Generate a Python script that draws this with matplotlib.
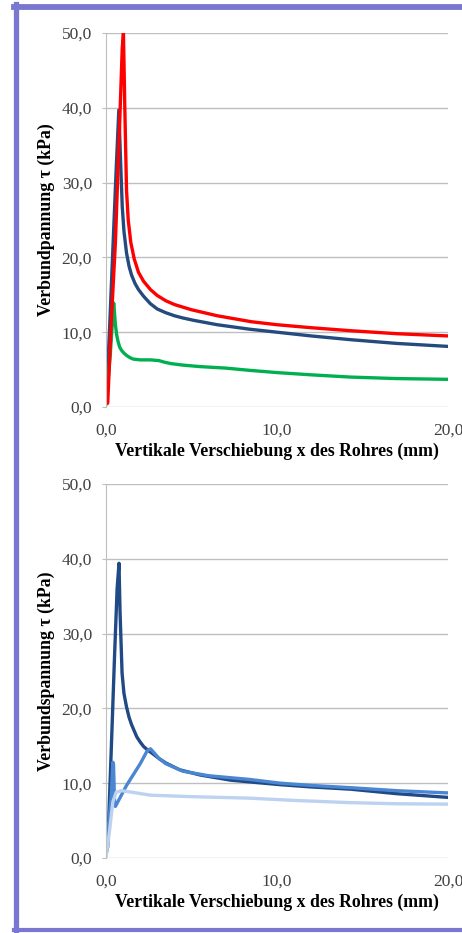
import numpy as np
import matplotlib
matplotlib.use('Agg')
import matplotlib.pyplot as plt
from matplotlib.lines import Line2D

plt.rcParams['font.family'] = ['Liberation Serif', 'DejaVu Serif']

# top chart: three pull-out tests
red_x = [0.1, 0.3, 0.55, 0.8, 0.95, 1.02, 1.1, 1.2, 1.3, 1.45, 1.65, 1.9, 2.2, 2.6, 3.0, 3.5, 4.0, 5.0, 6.5, 8.5, 10.0, 12.0, 14.3, 17.0, 20.0]
red_y = [0.5, 11.0, 22.0, 38.0, 48.0, 50.0, 40.0, 29.0, 25.0, 22.0, 19.8, 18.0, 16.8, 15.7, 14.9, 14.2, 13.7, 13.0, 12.2, 11.4, 11.0, 10.6, 10.2, 9.8, 9.5]
navy_x = [0.0, 0.2, 0.4, 0.6, 0.75, 0.85, 0.95, 1.05, 1.2, 1.35, 1.5, 1.7, 1.9, 2.2, 2.6, 3.0, 3.5, 4.0, 4.5, 5.1, 6.5, 8.4, 10.0, 12.0, 14.3, 17.0, 20.0]
navy_y = [0.5, 10.0, 21.0, 32.0, 39.7, 33.0, 26.8, 23.5, 20.6, 18.8, 17.6, 16.5, 15.7, 14.8, 13.8, 13.1, 12.6, 12.2, 11.9, 11.6, 11.0, 10.4, 10.0, 9.5, 9.0, 8.5, 8.1]
green_x = [0.0, 0.25, 0.45, 0.5, 0.55, 0.62, 0.7, 0.8, 0.9, 1.05, 1.2, 1.4, 1.6, 2.0, 2.6, 3.1, 3.4, 3.8, 4.5, 5.5, 7.0, 8.4, 10.0, 12.0, 14.3, 17.0, 20.0]
green_y = [0.3, 7.0, 13.9, 12.5, 11.0, 9.7, 8.8, 8.0, 7.6, 7.2, 6.9, 6.6, 6.4, 6.3, 6.3, 6.2, 6.0, 5.8, 5.6, 5.4, 5.2, 4.9, 4.6, 4.3, 4.0, 3.8, 3.7]

# bottom chart: three blue series
dark_x = [0.0, 0.1, 0.3, 0.5, 0.65, 0.76, 0.82, 0.94, 1.05, 1.2, 1.35, 1.5, 1.65, 1.8, 2.0, 2.2, 2.45, 2.7, 3.1, 3.5, 4.3, 5.5, 7.3, 10.2, 12.0, 14.3, 17.0, 20.0]
dark_y = [0.5, 1.5, 14.0, 27.0, 36.0, 39.4, 33.0, 24.7, 22.0, 20.2, 18.8, 17.8, 17.0, 16.2, 15.5, 14.9, 14.4, 14.0, 13.3, 12.7, 11.8, 11.1, 10.4, 9.8, 9.5, 9.2, 8.6, 8.1]
mid_x = [0.0, 0.3, 0.4, 0.44, 0.5, 0.55, 1.2, 2.0, 2.4, 2.6, 2.8, 3.1, 3.5, 4.5, 6.0, 8.4, 10.2, 12.0, 14.3, 17.0, 20.0]
mid_y = [1.0, 8.0, 12.8, 12.5, 7.5, 6.9, 9.7, 12.6, 14.3, 14.6, 14.1, 13.3, 12.6, 11.6, 11.0, 10.5, 10.0, 9.7, 9.4, 9.0, 8.7]
light_x = [0.0, 0.2, 0.4, 0.6, 0.9, 1.5, 2.6, 5.0, 8.4, 11.0, 14.3, 17.0, 20.0]
light_y = [0.0, 3.5, 7.5, 8.8, 9.0, 8.8, 8.4, 8.2, 8.0, 7.7, 7.4, 7.25, 7.2]

yticks = [0, 10, 20, 30, 40, 50]
xticks = [0, 10, 20]
xlabel = 'Vertikale Verschiebung x des Rohres (mm)'
ylabels = ['Verbundpannung τ (kPa)', 'Verbundspannung τ (kPa)']

W, H = 462, 933
fig = plt.figure(figsize=(W/100, H/100), dpi=100)

def px(x0, y0, x1, y1):
    return [x0/W, 1 - y1/H, (x1-x0)/W, (y1-y0)/H]

ax1 = fig.add_axes(px(106, 33, 448, 407))
ax2 = fig.add_axes(px(106, 484, 448, 858))

kw = dict(lw=2.4, solid_joinstyle='round', solid_capstyle='round')
ax1.plot(navy_x, navy_y, color='#254A7E', **kw)
ax1.plot(green_x, green_y, color='#00B050', **kw)
ax1.plot(red_x, red_y, color='#FF0000', **kw)

ax2.plot(dark_x, dark_y, color='#1F4A86', **kw)
ax2.plot(mid_x, mid_y, color='#4A86D2', **kw)
ax2.plot(light_x, light_y, color='#BCD2F0', **kw)

for ax, yl in zip([ax1, ax2], ylabels):
    ax.set_xlim(0, 20)
    ax.set_ylim(0, 50)
    ax.set_yticks(yticks)
    ax.set_yticklabels([('%.1f' % v).replace('.', ',') for v in yticks])
    ax.set_xticks(xticks)
    ax.set_xticklabels([('%.1f' % v).replace('.', ',') for v in xticks])
    ax.grid(axis='y', color='#BFBFBF', lw=1.0)
    ax.set_axisbelow(True)
    for s in ['top', 'right', 'bottom']:
        ax.spines[s].set_visible(False)
    ax.spines['left'].set_color('#BFBFBF')
    ax.tick_params(axis='y', length=3, color='#BFBFBF', pad=7, labelsize=12.5, labelcolor='#404040')
    ax.tick_params(axis='x', length=0, pad=11, labelsize=12.5, labelcolor='#404040')
    ax.set_xlabel(xlabel, fontsize=12.8, fontweight='bold', labelpad=3)
    ax.set_ylabel(yl, fontsize=12.8, fontweight='bold', labelpad=5)
    for lab in ax.get_xticklabels():
        lab.set_clip_on(False)

# purple frame round the picture
c = '#7A77D1'
fig.add_artist(Line2D([16/W, 16/W], [1 - 4/H, 1 - 933/H], color=c, lw=3.8, transform=fig.transFigure))
fig.add_artist(Line2D([14/W, 1], [1 - 7/H, 1 - 7/H], color=c, lw=4.2, transform=fig.transFigure))
fig.add_artist(Line2D([14/W, 1], [1 - 930/H, 1 - 930/H], color=c, lw=3.0, transform=fig.transFigure))

fig.savefig('out.png', dpi=100)
